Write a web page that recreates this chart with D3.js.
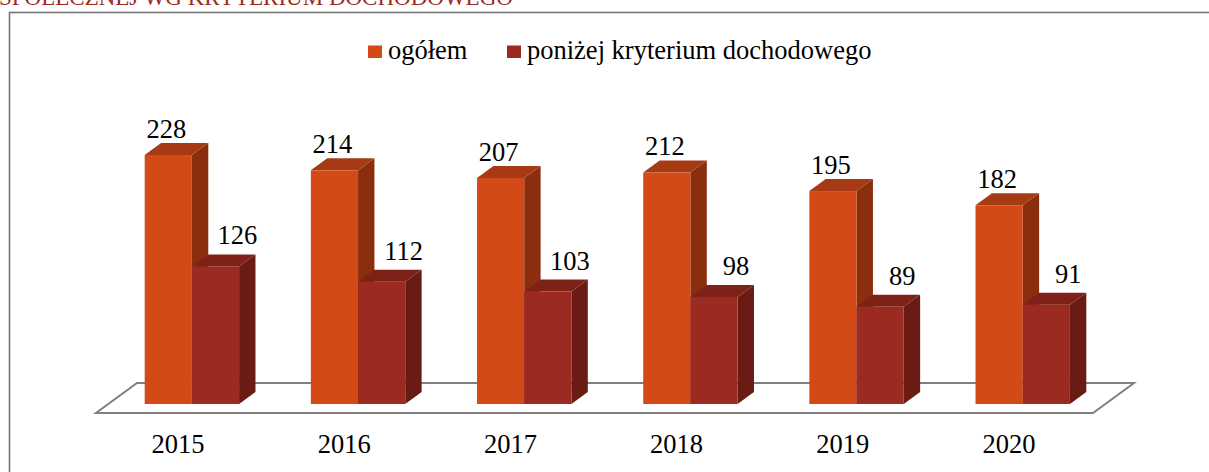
<!DOCTYPE html>
<html>
<head>
<meta charset="utf-8">
<script src="https://cdn.jsdelivr.net/npm/d3@7"></script>
<style>
  html, body { margin: 0; padding: 0; background: #fff; overflow: hidden; }
  text { font-family: "Liberation Serif", "DejaVu Serif", serif; }
</style>
</head>
<body>
<svg id="chart" width="1209" height="472"></svg>
<script>
const years = ["2015", "2016", "2017", "2018", "2019", "2020"];
const ogolem = [228, 214, 207, 212, 195, 182];
const ponizej = [126, 112, 103, 98, 89, 91];
const seriesNames = ["ogółem", "poniżej kryterium dochodowego"];
const titleText = "SPOŁECZNEJ WG KRYTERIUM DOCHODOWEGO";

const FONT = "Liberation Serif, DejaVu Serif, serif";
const FS = 26.5;

const palette = [
  { front: "#D44A17", top: "#A63A12", side: "#8A2E0E" },
  { front: "#9B2A20", top: "#7E2218", side: "#691B14" },
];

const svg = d3.select("#chart");

// cut-off heading above the chart frame
svg.append("text")
  .attr("x", -1)
  .attr("y", 5)
  .attr("font-family", FONT)
  .attr("font-size", 23)
  .attr("fill", "#9E2B20")
  .text(titleText);

// chart frame
svg.append("rect")
  .attr("x", 9.5)
  .attr("y", 12.5)
  .attr("width", 1230)
  .attr("height", 520)
  .attr("fill", "none")
  .attr("stroke", "#777")
  .attr("stroke-width", 1.6);

// floor + depth
const floorY = 413;
const depth = { x: 41, y: -30 };
const x = d3.scaleBand().domain(years).range([96, 1093]);
const bw = x.bandwidth();
const h = d3.scaleLinear().domain([0, 250]).range([0, 273]);

const fl = [
  [96, floorY],
  [1093, floorY],
  [1093 + depth.x, floorY + depth.y],
  [96 + depth.x, floorY + depth.y],
];
svg.append("polygon")
  .attr("points", fl.map(p => p.join(",")).join(" "))
  .attr("fill", "#fff")
  .attr("stroke", "#808080")
  .attr("stroke-width", 2);

const t0 = 0.3, t1 = 0.7;
const dx = depth.x * (t1 - t0), dy = depth.y * (t1 - t0);
const barW = bw * 0.284;
const baseY = floorY + depth.y * t0;

const series = [ogolem, ponizej];

years.forEach((yr, i) => {
  series.forEach((vals, s) => {
    const v = vals[i];
    const c = palette[s];
    const xl = x(yr) + bw * 0.219 + s * barW + depth.x * t0;
    const yt = baseY - h(v);
    const g = svg.append("g");

    g.append("polygon")
      .attr("points", [
        [xl + barW, yt], [xl + barW + dx, yt + dy],
        [xl + barW + dx, baseY + dy], [xl + barW, baseY],
      ].map(p => p.join(",")).join(" "))
      .attr("fill", c.side);

    g.append("polygon")
      .attr("points", [
        [xl, yt], [xl + barW, yt],
        [xl + barW + dx, yt + dy], [xl + dx, yt + dy],
      ].map(p => p.join(",")).join(" "))
      .attr("fill", c.top);

    g.append("rect")
      .attr("x", xl)
      .attr("y", yt)
      .attr("width", barW)
      .attr("height", h(v))
      .attr("fill", c.front);

    g.append("text")
      .attr("x", s === 0 ? xl + barW / 2 - 2 : xl + barW / 2 + 22)
      .attr("y", yt + dy - (s === 0 ? 5 : 10))
      .attr("text-anchor", "middle")
      .attr("font-family", FONT)
      .attr("font-size", FS)
      .attr("fill", "#000")
      .text(v);
  });
});

// category labels
svg.selectAll(".year")
  .data(years)
  .join("text")
  .attr("class", "year")
  .attr("x", d => x(d) + bw / 2 - 1)
  .attr("y", 453)
  .attr("text-anchor", "middle")
  .attr("font-family", FONT)
  .attr("font-size", FS)
  .attr("fill", "#000")
  .text(d => d);

// legend
const legendX = [368, 507];
seriesNames.forEach((name, s) => {
  svg.append("rect")
    .attr("x", legendX[s])
    .attr("y", 45.5)
    .attr("width", 14)
    .attr("height", 12.5)
    .attr("fill", palette[s].front);
  svg.append("text")
    .attr("x", legendX[s] + 20)
    .attr("y", 59)
    .attr("font-family", FONT)
    .attr("font-size", FS)
    .attr("fill", "#000")
    .text(name);
});
</script>
</body>
</html>
